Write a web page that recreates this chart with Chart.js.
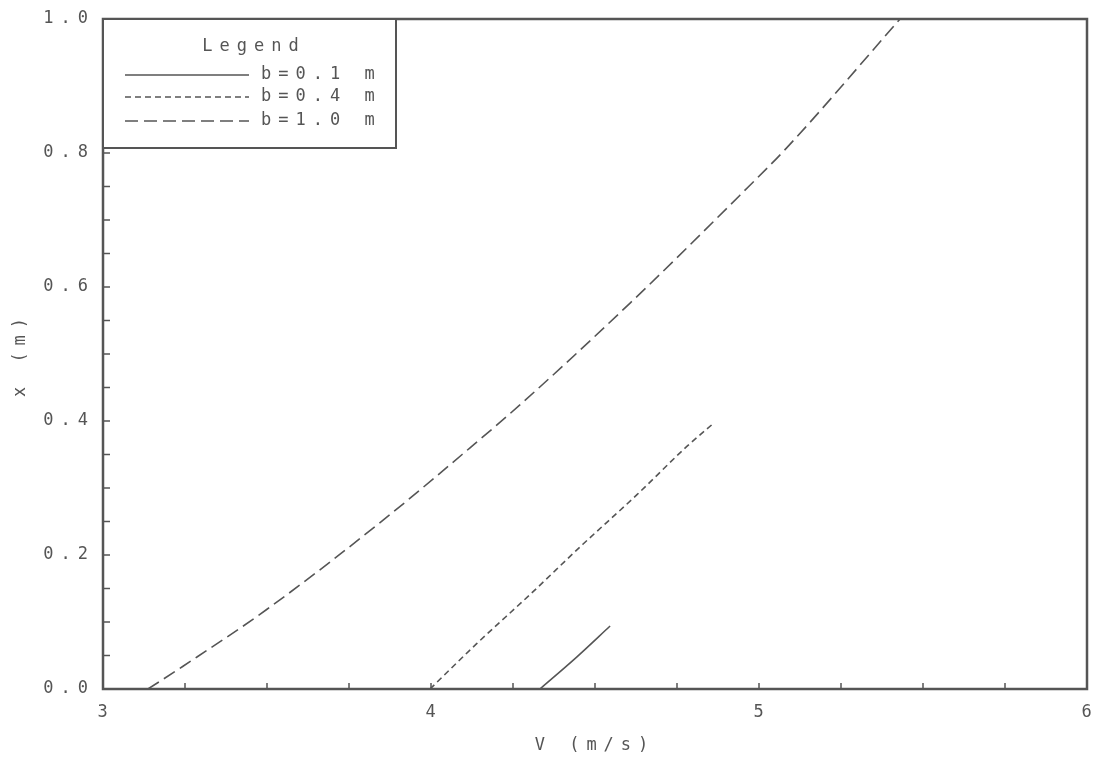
<!DOCTYPE html>
<html>
<head>
<meta charset="utf-8">
<script src="https://cdn.jsdelivr.net/npm/chart.js@4"></script>
<style>
    html, body { margin: 0; padding: 0; background: #ffffff; }
    #wrap { width: 1093px; height: 760px; }
</style>
</head>
<body>
<div id="wrap"><canvas id="chart"></canvas></div>
<script>
// b = 0.1 m
const v01 = [4.332, 4.445, 4.546];
const x01 = [0.0, 0.048, 0.094];
// b = 0.4 m
const v04 = [3.997, 4.140, 4.302, 4.463, 4.628, 4.780, 4.860];
const x04 = [0.0, 0.068, 0.141, 0.216, 0.290, 0.362, 0.396];
// b = 1.0 m
const v10 = [3.137, 3.244, 3.500, 3.854, 4.119, 4.271, 4.607, 4.942, 5.085, 5.430];
const x10 = [0.0, 0.034, 0.119, 0.252, 0.360, 0.424, 0.576, 0.737, 0.808, 1.0];

const seriesLabels = ['b=0.1 m', 'b=0.4 m', 'b=1.0 m'];
const xLabels = ['3', '4', '5', '6'];
const yLabels = ['0.0', '0.2', '0.4', '0.6', '0.8', '1.0'];

const ink = '#555555';
const fontFamily = '"DejaVu Sans Mono", monospace';
const fontSize = 17;
const spacing = '7px';

function points(vs, xs) {
    return vs.map((v, i) => ({ x: v, y: xs[i] }));
}

// letter spacing like the old plotter text
const spacedText = {
    id: 'spacedText',
    beforeUpdate(chart) { chart.ctx.letterSpacing = spacing; },
    beforeDraw(chart) { chart.ctx.letterSpacing = spacing; }
};

// frame, inward ticks and the boxed legend
const frame = {
    id: 'frame',
    afterDraw(chart) {
        const ctx = chart.ctx;
        const a = chart.chartArea;
        ctx.save();
        ctx.strokeStyle = ink;

        ctx.lineWidth = 1.5;
        const xs = chart.scales.x;
        xs.ticks.forEach(t => {
            const px = xs.getPixelForValue(t.value);
            ctx.beginPath();
            ctx.moveTo(px, a.bottom);
            ctx.lineTo(px, a.bottom - 6);
            ctx.stroke();
        });
        const ys = chart.scales.y;
        ys.ticks.forEach(t => {
            const py = ys.getPixelForValue(t.value);
            ctx.beginPath();
            ctx.moveTo(a.left, py);
            ctx.lineTo(a.left + 7, py);
            ctx.stroke();
        });

        ctx.lineWidth = 2.5;
        ctx.strokeRect(a.left, a.top, a.right - a.left, a.bottom - a.top);

        // legend box
        const bx = a.left, by = a.top, bw = 293, bh = 129;
        ctx.fillStyle = '#ffffff';
        ctx.fillRect(bx, by, bw, bh);
        ctx.lineWidth = 2;
        ctx.strokeRect(bx, by, bw, bh);

        ctx.letterSpacing = spacing;
        ctx.font = fontSize + 'px ' + fontFamily;
        ctx.fillStyle = ink;
        ctx.textBaseline = 'middle';
        ctx.textAlign = 'center';
        ctx.fillText('Legend', bx + 151, by + 28);

        const rows = [56, 78, 102];
        chart.data.datasets.forEach((ds, i) => {
            const y = by + rows[i];
            ctx.lineWidth = ds.borderWidth;
            ctx.setLineDash(ds.borderDash || []);
            ctx.beginPath();
            ctx.moveTo(bx + 22, y);
            ctx.lineTo(bx + 146, y);
            ctx.stroke();
            ctx.setLineDash([]);
            ctx.textAlign = 'left';
            ctx.fillText(ds.label, bx + 158, y);
        });
        ctx.restore();
    }
};

new Chart(document.getElementById('chart'), {
    type: 'scatter',
    data: {
        datasets: [
            {
                label: seriesLabels[0],
                data: points(v01, x01),
                borderColor: ink,
                borderWidth: 1.6,
                borderDash: []
            },
            {
                label: seriesLabels[1],
                data: points(v04, x04),
                borderColor: ink,
                borderWidth: 1.6,
                borderDash: [6, 4]
            },
            {
                label: seriesLabels[2],
                data: points(v10, x10),
                borderColor: ink,
                borderWidth: 1.6,
                borderDash: [13, 6]
            }
        ]
    },
    options: {
        responsive: true,
        maintainAspectRatio: false,
        animation: false,
        datasets: {
            scatter: {
                showLine: true,
                pointRadius: 0,
                cubicInterpolationMode: 'monotone',
                fill: false
            }
        },
        layout: { padding: { left: 0, top: 19, right: 6, bottom: 0 } },
        plugins: {
            legend: { display: false },
            tooltip: { enabled: false }
        },
        scales: {
            x: {
                type: 'linear',
                min: 3,
                max: 6,
                grid: { display: false, drawTicks: false },
                border: { display: false },
                ticks: {
                    stepSize: 0.25,
                    autoSkip: false,
                    maxRotation: 0,
                    padding: 13,
                    labelOffset: 3,
                    color: ink,
                    font: { family: fontFamily, size: fontSize },
                    callback: v => xLabels.includes(String(v)) ? String(v) : ''
                },
                title: {
                    display: true,
                    text: 'V (m/s)',
                    color: ink,
                    font: { family: fontFamily, size: fontSize },
                    padding: { top: 0, bottom: 4 }
                },
                afterFit(scale) {
                    scale.height = 71;
                    scale.paddingLeft = 0;
                    scale.paddingRight = 0;
                }
            },
            y: {
                type: 'linear',
                min: 0,
                max: 1,
                grid: { display: false, drawTicks: false },
                border: { display: false },
                ticks: {
                    stepSize: 0.05,
                    autoSkip: false,
                    padding: 8,
                    color: ink,
                    font: { family: fontFamily, size: fontSize },
                    callback: v => {
                        const s = v.toFixed(1);
                        return (yLabels.includes(s) && Math.abs(v - Number(s)) < 1e-6) ? s : '';
                    }
                },
                title: {
                    display: true,
                    text: 'x (m)',
                    color: ink,
                    font: { family: fontFamily, size: fontSize },
                    padding: { top: 10, bottom: 0 }
                },
                afterFit(scale) {
                    scale.width = 103;
                    scale.paddingTop = 0;
                    scale.paddingBottom = 0;
                }
            }
        }
    },
    plugins: [spacedText, frame]
});
</script>
</body>
</html>
